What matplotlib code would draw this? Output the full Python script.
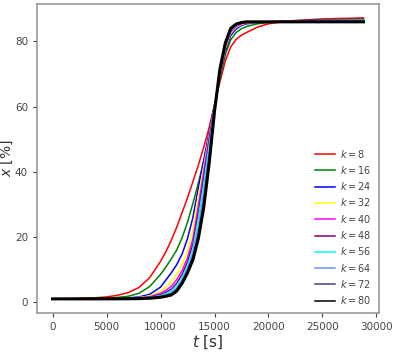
import matplotlib
matplotlib.use("Agg")
import matplotlib.pyplot as plt

# time grid [s]
t = [0, 2000, 4000, 5000, 6000, 7000, 8000, 9000, 10000, 10500, 11000, 11500,
     12000, 12500, 13000, 13500, 14000, 14500, 15000, 15500, 16000, 16500,
     17000, 17500, 18000, 19000, 20000, 22000, 25000, 28800]

k_values = [8, 16, 24, 32, 40, 48, 56, 64, 72, 80]
colors = ['red', 'green', 'blue', 'yellow', 'magenta', 'purple', 'cyan',
          'cornflowerblue', 'darkslateblue', 'black']

x_k8 = [1.0, 1.1, 1.35, 1.6, 2.1, 2.9, 4.5, 7.5, 12.5, 15.5, 19.0, 23.0, 27.5, 32.0, 37.0,
        42.0, 47.5, 53.5, 60.5, 67.5, 74.0, 78.3, 80.6, 81.9, 82.8, 84.4, 85.4, 86.3, 86.9, 87.2]
x_k16 = [1.0, 1.05, 1.15, 1.25, 1.45, 1.8, 2.7, 4.8, 8.5, 10.8, 13.3, 16.0, 19.8, 24.5, 30.3,
         36.5, 43.2, 51.0, 60.0, 68.5, 76.0, 80.5, 82.7, 83.9, 84.6, 85.4, 85.8, 86.2, 86.6, 86.9]
x_k24 = [1.0, 1.02, 1.05, 1.1, 1.15, 1.3, 1.6, 2.4, 4.6, 6.8, 9.0, 11.5, 14.8, 19.5, 26.0,
         35.0, 43.5, 52.0, 60.5, 69.5, 77.0, 81.8, 83.8, 84.9, 85.4, 85.8, 86.0, 86.3, 86.5, 86.7]
x_k32 = [1.0, 1.01, 1.03, 1.05, 1.1, 1.2, 1.4, 1.9, 3.3, 4.6, 6.3, 8.5, 11.5, 15.8, 22.5,
         32.5, 41.5, 51.0, 60.0, 70.0, 77.8, 82.5, 84.3, 85.2, 85.6, 85.9, 86.0, 86.2, 86.4, 86.5]
x_k40 = [1.0, 1.0, 1.02, 1.04, 1.08, 1.15, 1.3, 1.65, 2.7, 3.6, 4.9, 6.9, 9.7, 13.6, 19.5,
         29.5, 40.0, 50.5, 59.8, 70.3, 78.3, 82.9, 84.6, 85.4, 85.7, 85.95, 86.0, 86.15, 86.3, 86.4]
x_k48 = [1.0, 1.0, 1.01, 1.03, 1.06, 1.1, 1.25, 1.5, 2.3, 3.0, 4.0, 5.8, 8.5, 12.3, 17.8,
         27.5, 38.0, 49.5, 59.5, 70.6, 78.7, 83.2, 84.9, 85.6, 85.8, 86.0, 86.0, 86.1, 86.2, 86.3]
x_k56 = [1.0, 1.0, 1.01, 1.02, 1.05, 1.1, 1.2, 1.4, 2.0, 2.6, 3.4, 5.0, 7.5, 11.2, 16.3,
         25.5, 36.0, 48.0, 59.2, 70.9, 79.0, 83.5, 85.0, 85.7, 85.9, 86.0, 86.0, 86.05, 86.1, 86.2]
x_k64 = [1.0, 1.0, 1.0, 1.02, 1.04, 1.08, 1.15, 1.3, 1.8, 2.3, 2.9, 4.3, 6.7, 10.3, 15.0,
         23.0, 33.5, 46.0, 59.0, 71.1, 79.3, 83.7, 85.2, 85.8, 86.0, 86.0, 86.0, 86.0, 86.05, 86.1]
x_k72 = [1.0, 1.0, 1.0, 1.01, 1.03, 1.05, 1.1, 1.25, 1.7, 2.1, 2.5, 3.8, 6.2, 9.6, 14.0,
         20.8, 31.0, 44.0, 58.8, 71.3, 79.4, 83.9, 85.3, 85.8, 86.0, 86.0, 86.0, 86.0, 86.0, 86.05]
x_k80 = [1.0, 1.0, 1.0, 1.0, 1.02, 1.04, 1.08, 1.2, 1.5, 1.8, 2.2, 3.4, 5.8, 9.0, 13.0,
         19.5, 29.0, 42.5, 58.5, 71.5, 79.5, 84.0, 85.3, 85.8, 86.0, 86.0, 86.0, 86.0, 86.0, 86.0]

series = [x_k8, x_k16, x_k24, x_k32, x_k40, x_k48, x_k56, x_k64, x_k72, x_k80]

fig = plt.figure(figsize=(3.94, 3.52), dpi=100)
ax = fig.add_axes([0.094, 0.111, 0.868, 0.878])

for k, y, c in zip(k_values, series, colors):
    lw = 2.2 if k == 80 else 1.1
    ax.plot(t, y, color=c, lw=lw, label='$k = %d$' % k)

ax.set_xticks([0, 5000, 10000, 15000, 20000, 25000, 30000])
ax.set_yticks([0, 20, 40, 60, 80])
ax.tick_params(labelsize=7.5, colors='#444444', length=3, width=0.8)
for s in ax.spines.values():
    s.set_color('#999999')
    s.set_linewidth(1.2)

ax.set_xlabel('$t$ [s]', fontsize=11, color='#333333', labelpad=1)
ax.set_ylabel('$x$ [%]', fontsize=10, color='#333333')
ax.yaxis.set_label_coords(-0.065, 0.5)

leg = ax.legend(loc='lower right', frameon=False, fontsize=7, handlelength=2.0,
                handletextpad=0.6, labelspacing=0.44, borderaxespad=0.3,
                bbox_to_anchor=(0.999, 0.0))
for txt in leg.get_texts():
    txt.set_color('#444444')
for h in leg.legend_handles:
    h.set_linewidth(1.1)

fig.savefig('out.png', dpi=100)
